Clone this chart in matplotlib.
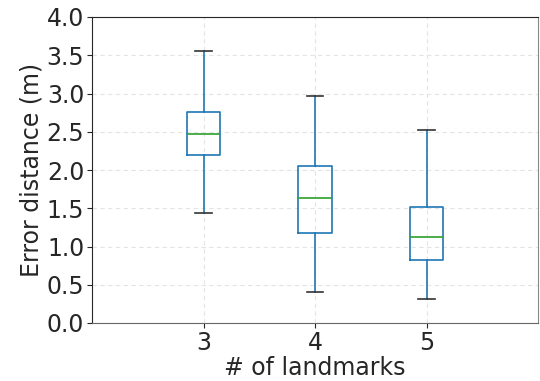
import matplotlib
matplotlib.use("Agg")
import matplotlib.pyplot as plt

landmarks = [3, 4, 5]
whislo = [1.44, 0.40, 0.31]
q1 = [2.19, 1.18, 0.82]
med = [2.47, 1.63, 1.12]
q3 = [2.76, 2.05, 1.51]
whishi = [3.55, 2.97, 2.52]

stats = []
for i in range(len(landmarks)):
    stats.append({'whislo': whislo[i], 'q1': q1[i], 'med': med[i],
                  'q3': q3[i], 'whishi': whishi[i], 'fliers': []})

fig = plt.figure(figsize=[5.4, 3.81], dpi=100)
ax = fig.add_axes([92 / 540, 1 - 323 / 381, 446 / 540, 306 / 381])

ax.bxp(stats, positions=landmarks, widths=0.3, showfliers=False,
       boxprops=dict(color='#1f77b4', linewidth=1.2),
       whiskerprops=dict(color='#1f77b4', linewidth=1.2),
       capprops=dict(color='#333333', linewidth=1.2),
       medianprops=dict(color='#2ca02c', linewidth=1.2))

ax.set_xlim(2, 6)
ax.set_ylim(0, 4)
ax.set_xticks(landmarks)
ax.set_yticks([0, 0.5, 1, 1.5, 2, 2.5, 3, 3.5, 4])
ax.grid(True, ls=(0, (4, 3)), color='#e4e4e4', lw=0.8)
ax.set_axisbelow(True)

ax.tick_params(labelsize=17, colors='#262626', pad=2)
ax.set_xlabel('# of landmarks', fontsize=17, color='#262626', labelpad=1)
ax.set_ylabel('Error distance (m)', fontsize=17, color='#262626', labelpad=2)
for s in ax.spines.values():
    s.set_color('#262626')
ax.spines['bottom'].set_color('#666666')
ax.spines['right'].set_color('#888888')

fig.savefig('out.png', dpi=100)
